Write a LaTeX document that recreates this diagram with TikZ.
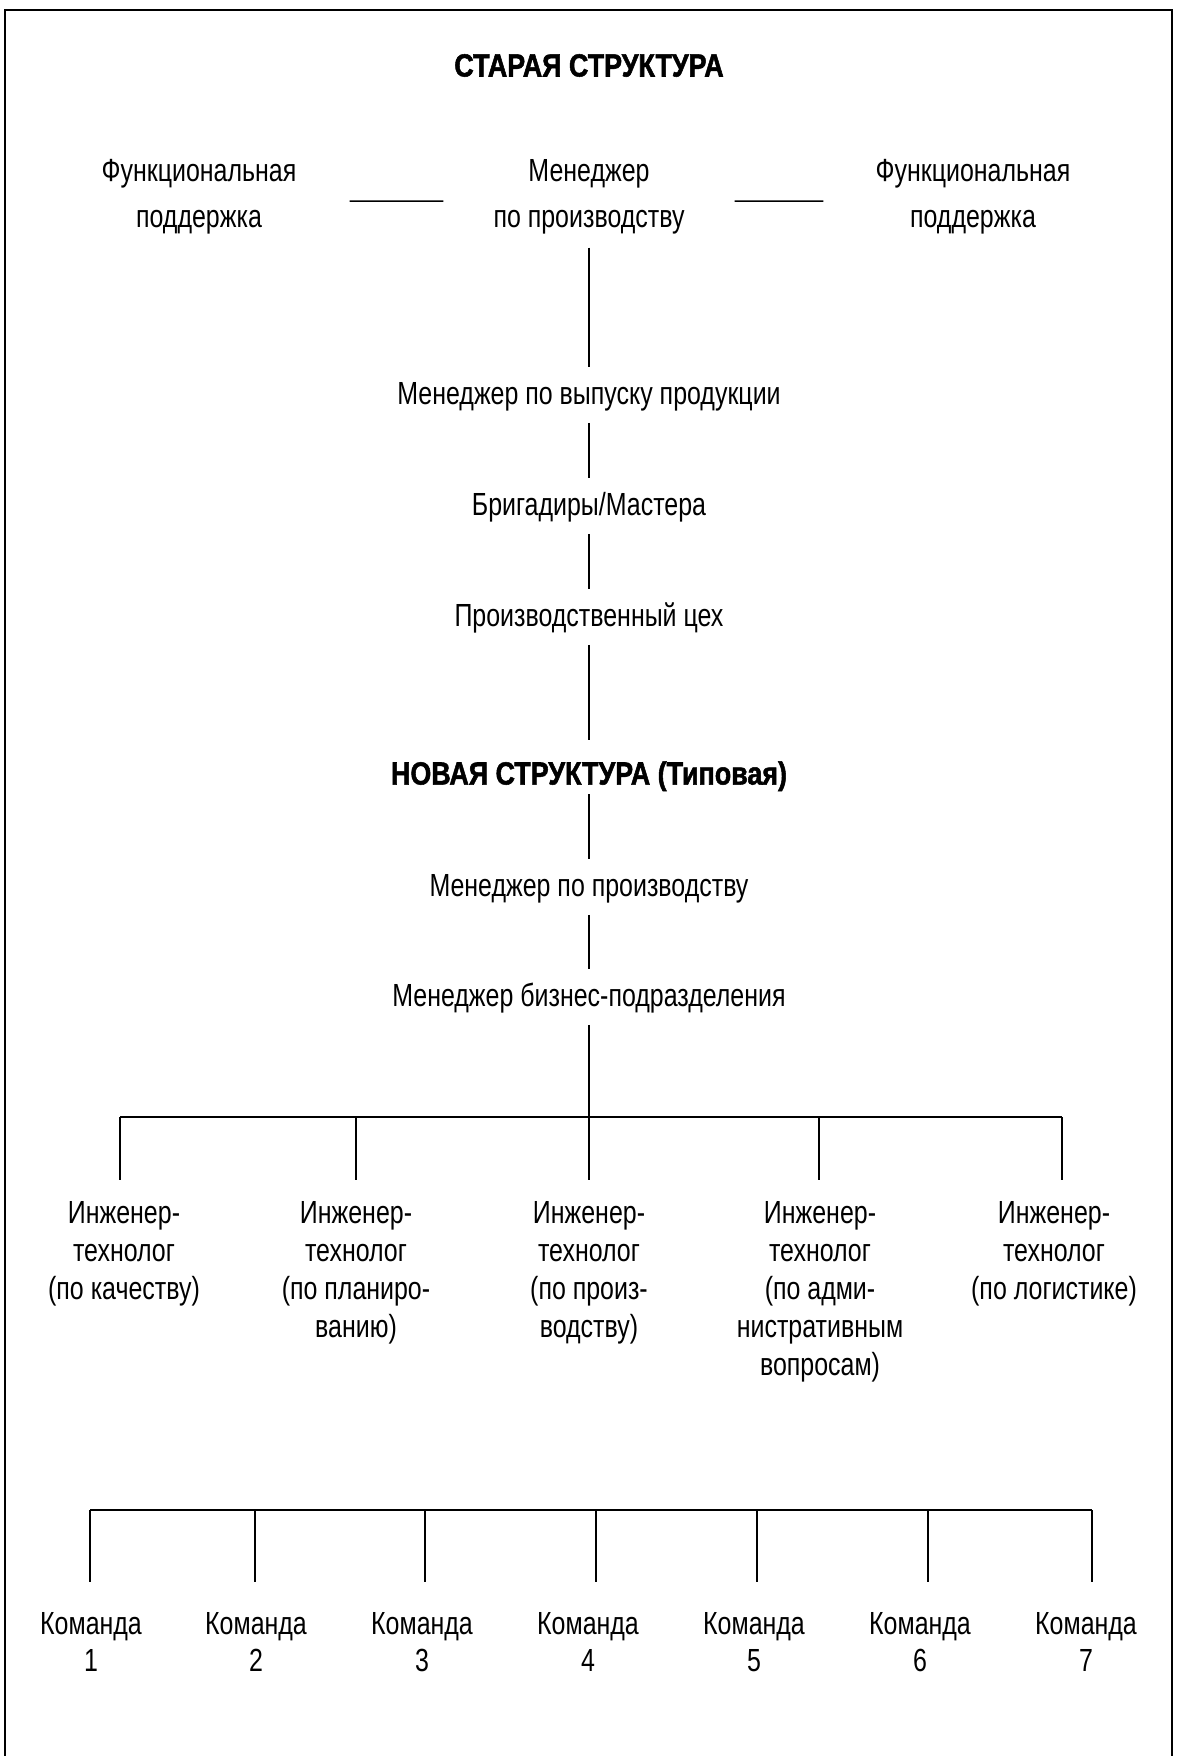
\documentclass[tikz,border=0pt]{standalone}
\usepackage{fontspec}
\setmainfont[FakeStretch=0.78]{Liberation Sans}
\newfontfamily\titlefont[FakeStretch=0.84, BoldFeatures={FakeBold=1.6}]{Liberation Sans}
\begin{document}
\begin{tikzpicture}[x=1pt,y=-1pt,
  txt/.style={font=\fontsize{32}{38}\selectfont, align=center, inner xsep=0pt},
  one/.style={txt, anchor=base, text height=26pt, text depth=6.7pt, inner ysep=11.5pt},
  two/.style={txt, font=\fontsize{32}{46}\selectfont, anchor=north, inner ysep=13pt},
  ttl/.style={font=\titlefont\bfseries\fontsize{32}{38}\selectfont, anchor=base, inner sep=0pt, text height=44.7pt, text depth=9.3pt},
  eng/.style={txt, anchor=north, inner ysep=21.5pt},
  team/.style={txt, font=\fontsize{32}{37}\selectfont, anchor=north, inner ysep=30.5pt},
  conn/.style={line width=1.6pt},
  barline/.style={line width=2.2pt}]
\useasboundingbox (0,0) rectangle (1176,1756);
\draw[line width=2pt] (5,1756) -- (5,10) -- (1172,10) -- (1172,1756);

% old structure
\node[ttl] (t1) at (589,76.5) {СТАРАЯ СТРУКТУРА};
\node[two] (fs1) at (199,146.5) {Функциональная\\поддержка};
\node[two] (pm) at (589,146.5) {Менеджер\\по производству};
\node[two] (fs2) at (973,146.5) {Функциональная\\поддержка};
\draw[conn, shorten <=53pt, shorten >=50pt] ([yshift=-4pt]fs1.east) -- ([yshift=-4pt]pm.west);
\draw[conn, shorten <=50pt, shorten >=52pt] ([yshift=-4pt]pm.east) -- ([yshift=-4pt]fs2.west);

\node[one] (mvp) at (589,404.5) {Менеджер по выпуску продукции};
\node[one] (br) at (589,515.5) {Бригадиры/Мастера};
\node[one] (pc) at (589,626.5) {Производственный цех};
\node[ttl] (t2) at (589,784.5) {НОВАЯ СТРУКТУРА (Типовая)};
\node[one] (mp2) at (589,896.5) {Менеджер по производству};
\node[one] (mb) at (589,1006.5) {Менеджер бизнес-подразделения};

\draw[conn] (pm.south) -- (mvp.north);
\draw[conn] (mvp.south) -- (br.north);
\draw[conn] (br.south) -- (pc.north);
\draw[conn] (pc.south) -- (t2.north);
\draw[conn] (t2.south) -- (mp2.north);
\draw[conn] (mp2.south) -- (mb.north);

% engineers
\coordinate (b0) at (589,1117);
\coordinate (b1) at (120,1117);
\coordinate (b2) at (356,1117);
\coordinate (b3) at (589,1117);
\coordinate (b4) at (819,1117);
\coordinate (b5) at (1062,1117);
\draw[conn] (mb.south) -- (b0);
\draw[barline] (b1) -- (b5);

\node[eng] (e1) at (124,1180) {Инженер-\\технолог\\(по качеству)};
\node[eng] (e2) at (356,1180) {Инженер-\\технолог\\(по планиро-\\ванию)};
\node[eng] (e3) at (589,1180) {Инженер-\\технолог\\(по произ-\\водству)};
\node[eng] (e4) at (820,1180) {Инженер-\\технолог\\(по адми-\\нистративным\\вопросам)};
\node[eng] (e5) at (1054,1180) {Инженер-\\технолог\\(по логистике)};
\foreach \i in {1,...,5} \draw[conn] (b\i) -- (b\i |- e\i.north);

% teams
\coordinate (c1) at (90,1510);
\coordinate (c2) at (255,1510);
\coordinate (c3) at (425,1510);
\coordinate (c4) at (596,1510);
\coordinate (c5) at (757,1510);
\coordinate (c6) at (928,1510);
\coordinate (c7) at (1092,1510);
\draw[barline] (c1) -- (c7);
\node[team] (k1) at (91,1582) {Команда\\1};
\node[team] (k2) at (256,1582) {Команда\\2};
\node[team] (k3) at (422,1582) {Команда\\3};
\node[team] (k4) at (588,1582) {Команда\\4};
\node[team] (k5) at (754,1582) {Команда\\5};
\node[team] (k6) at (920,1582) {Команда\\6};
\node[team] (k7) at (1086,1582) {Команда\\7};
\foreach \i in {1,...,7} \draw[conn] (c\i) -- (c\i |- k\i.north);
\end{tikzpicture}
\end{document}
